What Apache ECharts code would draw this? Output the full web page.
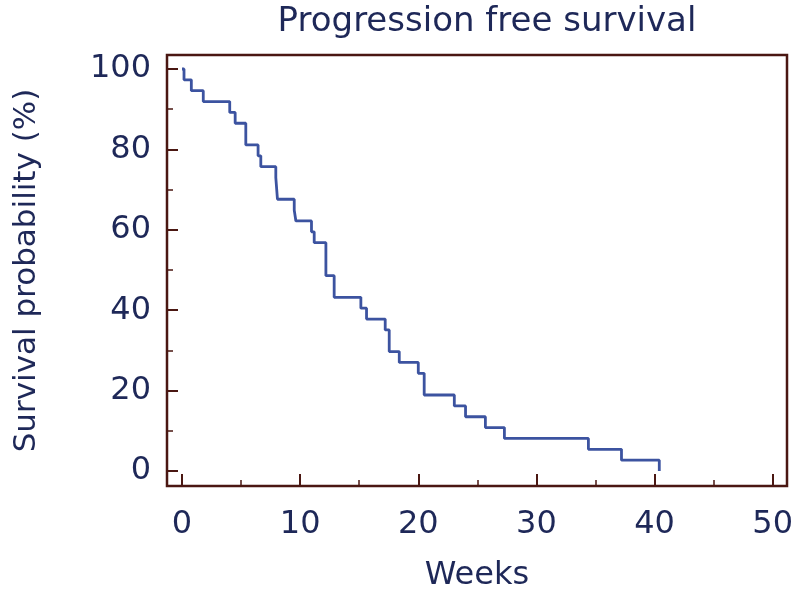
<!DOCTYPE html>
<html>
<head>
<meta charset="utf-8">
<script src="https://cdn.jsdelivr.net/npm/echarts@6/dist/echarts.min.js"></script>
<style>
html,body{margin:0;padding:0;background:#fff;}
#chart{width:800px;height:602px;}
</style>
</head>
<body>
<div id="chart"></div>
<script>
// Kaplan-Meier step points (weeks, survival %)
var weeks    = [0, 0.17, 0.79, 1.8, 4.04, 4.5, 5.4, 6.44, 6.67, 7.94, 8.08, 9.5, 9.64, 10.96, 11.19, 12.18, 12.88, 15.14, 15.62, 17.2, 17.54, 18.39, 20.0, 20.5, 23.05, 24.0, 25.68, 27.29, 34.4, 37.2, 40.4];
var survival = [100, 97.3, 94.6, 91.9, 89.2, 86.5, 81.1, 78.4, 75.7, 73.0, 67.6, 64.9, 62.2, 59.5, 56.8, 48.6, 43.2, 40.5, 37.8, 35.1, 29.7, 27.0, 24.3, 18.9, 16.2, 13.5, 10.8, 8.1, 5.4, 2.7, 0];
var xMajorTicks = [0, 10, 20, 30, 40, 50];
var xMinorTicks = [5, 15, 25, 35, 45];
var yMajorTicks = [0, 20, 40, 60, 80, 100];
var yMinorTicks = [10, 30, 50, 70, 90];
var titleText = 'Progression free survival';
var xName = 'Weeks';
var yName = 'Survival probability (%)';

var textColor = '#1e2858';
var frameColor = '#4a1712';
var lineColor = '#3c53a0';
var font = 'DejaVu Sans';

var xMin = -1.27, xMax = 51.21, yMin = -3.73, yMax = 103.48;

var data = weeks.map(function (w, i) { return [w, survival[i]]; });

var chart = echarts.init(document.getElementById('chart'), null, {renderer: 'canvas'});
chart.setOption({
  animation: false,
  backgroundColor: '#ffffff',
  title: {
    text: titleText,
    left: 482,
    top: 0,
    textAlign: 'center',
    textStyle: {fontFamily: font, fontSize: 34, fontWeight: 'normal', color: textColor}
  },
  grid: {left: 167, top: 55, width: 620, height: 431, show: true, borderColor: frameColor, borderWidth: 2.5, backgroundColor: 'transparent'},
  xAxis: [
    {
      type: 'value', min: xMin, max: xMax, position: 'bottom',
      axisLine: {show: false, onZero: false},
      axisTick: {show: true, inside: true, length: 12, customValues: xMajorTicks, lineStyle: {color: frameColor, width: 2}},
      splitLine: {show: false},
      axisLabel: {fontFamily: font, fontSize: 32, color: textColor, margin: 23, customValues: xMajorTicks},
      name: xName, nameLocation: 'middle', nameGap: 74,
      nameTextStyle: {fontFamily: font, fontSize: 32, color: textColor}
    },
    {
      type: 'value', min: xMin, max: xMax, position: 'bottom',
      axisLine: {show: false, onZero: false},
      axisTick: {show: true, inside: true, length: 6, customValues: xMinorTicks, lineStyle: {color: frameColor, width: 1.5}},
      splitLine: {show: false},
      axisLabel: {show: false}
    }
  ],
  yAxis: [
    {
      type: 'value', min: yMin, max: yMax, position: 'left',
      axisLine: {show: false, onZero: false},
      axisTick: {show: true, inside: true, length: 11, customValues: yMajorTicks, lineStyle: {color: frameColor, width: 2}},
      splitLine: {show: false},
      axisLabel: {fontFamily: font, fontSize: 32, color: textColor, margin: 16, customValues: yMajorTicks},
      name: yName, nameLocation: 'middle', nameGap: 125, nameRotate: 90,
      nameTextStyle: {fontFamily: font, fontSize: 31, color: textColor}
    },
    {
      type: 'value', min: yMin, max: yMax, position: 'left',
      axisLine: {show: false, onZero: false},
      axisTick: {show: true, inside: true, length: 6, customValues: yMinorTicks, lineStyle: {color: frameColor, width: 1.5}},
      splitLine: {show: false},
      axisLabel: {show: false}
    }
  ],
  series: [
    {
      type: 'line', xAxisIndex: 0, yAxisIndex: 0,
      step: 'end', showSymbol: false, symbol: 'none',
      lineStyle: {color: lineColor, width: 2.8},
      data: data
    }
  ]
});
</script>
</body>
</html>
